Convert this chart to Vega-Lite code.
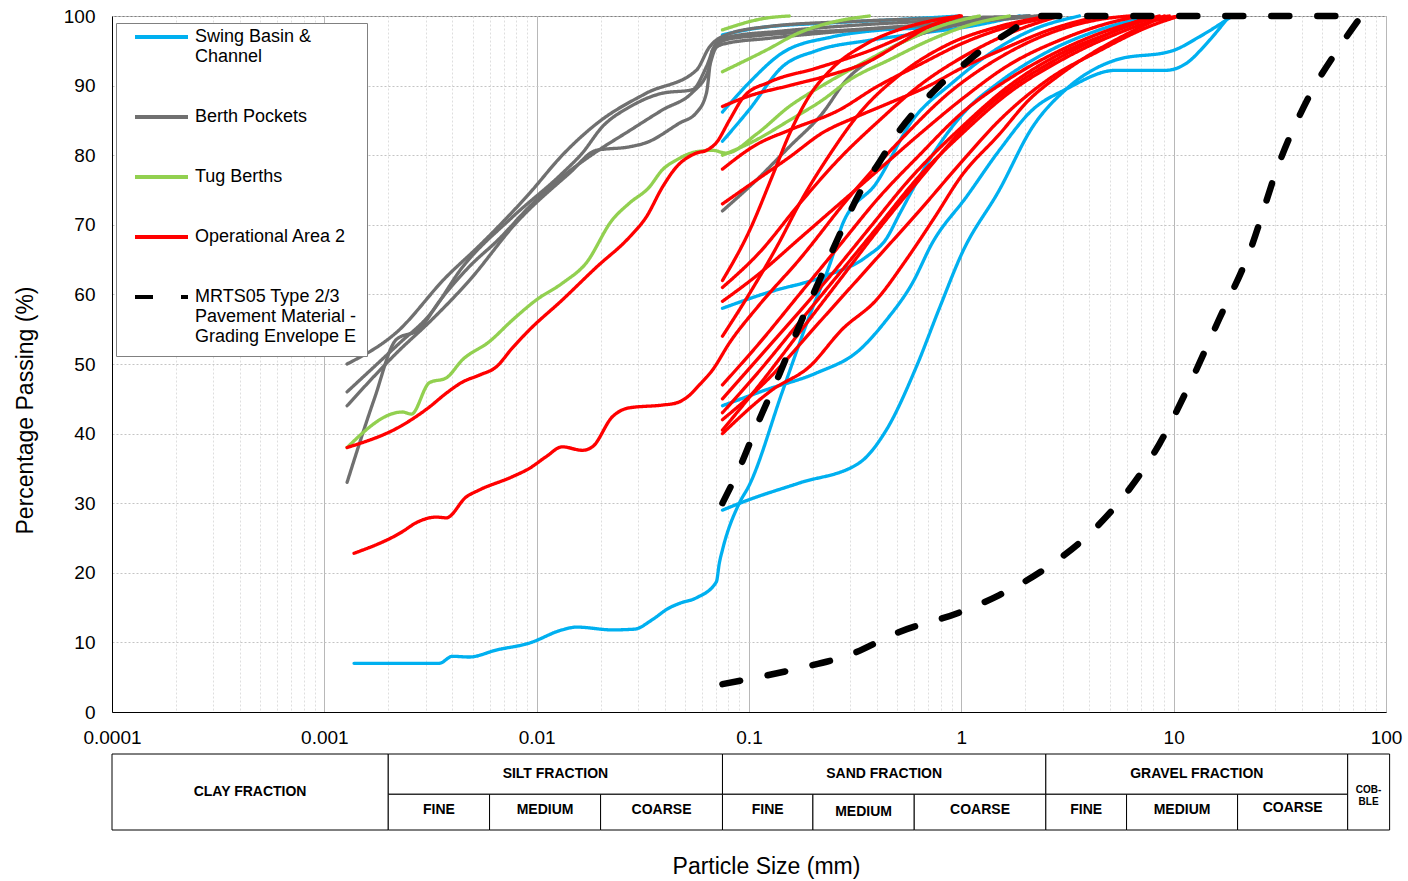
{
  "$schema": "https://vega.github.io/schema/vega-lite/v6.json",
  "background": "white",
  "padding": {"left": 13, "top": 6, "right": 5, "bottom": 5},
  "bounds": "flush",
  "spacing": 42,
  "config": {
    "font": "Liberation Sans",
    "legend": {
      "orient": "none", "legendX": 4, "legendY": 7,
      "fillColor": "white", "strokeColor": "#808080", "padding": 10,
      "symbolType": "stroke", "symbolSize": 2809, "symbolStrokeWidth": 4, "symbolOffset": 7,
      "clipHeight": 8,
      "labelFontSize": 18, "labelColor": "black", "labelLimit": 400, "labelOffset": 5,
      "rowPadding": 42
    }
  },
  "vconcat": [
    {
      "width": 1274, "height": 696,
      "view": {"stroke": "#808080"},
      "data": {"values": [
        {"g":"SB","s":"b1","x":0.00138,"y":7},{"g":"SB","s":"b1","x":0.00302,"y":7},{"g":"SB","s":"b1","x":0.00348,"y":7},{"g":"SB","s":"b1","x":0.00401,"y":8},{"g":"SB","s":"b1","x":0.00482,"y":7.9},{"g":"SB","s":"b1","x":0.00646,"y":8.9},{"g":"SB","s":"b1","x":0.00924,"y":9.9},{"g":"SB","s":"b1","x":0.0132,"y":11.8},{"g":"SB","s":"b1","x":0.0154,"y":12.2},{"g":"SB","s":"b1","x":0.0227,"y":11.8},{"g":"SB","s":"b1","x":0.0289,"y":11.9},{"g":"SB","s":"b1","x":0.0348,"y":13.2},{"g":"SB","s":"b1","x":0.0418,"y":14.9},{"g":"SB","s":"b1","x":0.047,"y":15.6},{"g":"SB","s":"b1","x":0.0565,"y":16.4},{"g":"SB","s":"b1","x":0.0702,"y":18.7},{"g":"SB","s":"b1","x":0.0725,"y":21.4},{"g":"SB","s":"b1","x":0.075,"y":23.3},{"g":"SB","s":"b1","x":0.09,"y":30},{"g":"SB","s":"b1","x":0.1,"y":32.5},{"g":"SB","s":"b1","x":0.1435,"y":46},{"g":"SB","s":"b1","x":0.192,"y":56.8},{"g":"SB","s":"b1","x":0.247,"y":65.4},{"g":"SB","s":"b1","x":0.275,"y":70},{"g":"SB","s":"b1","x":0.398,"y":76},{"g":"SB","s":"b1","x":0.588,"y":85},{"g":"SB","s":"b1","x":0.907,"y":90.4},{"g":"SB","s":"b1","x":1.51,"y":95.5},{"g":"SB","s":"b1","x":2.16,"y":98},{"g":"SB","s":"b1","x":3.6,"y":100},
        {"g":"SB","s":"b2","x":0.075,"y":29},{"g":"SB","s":"b2","x":0.1,"y":30.5},{"g":"SB","s":"b2","x":0.1726,"y":32.9},{"g":"SB","s":"b2","x":0.331,"y":35.8},{"g":"SB","s":"b2","x":0.443,"y":40.5},{"g":"SB","s":"b2","x":0.614,"y":49.6},{"g":"SB","s":"b2","x":0.788,"y":58},{"g":"SB","s":"b2","x":1.01,"y":66},{"g":"SB","s":"b2","x":1.51,"y":75},{"g":"SB","s":"b2","x":2.16,"y":84},{"g":"SB","s":"b2","x":3.12,"y":89.5},{"g":"SB","s":"b2","x":5.37,"y":93.7},{"g":"SB","s":"b2","x":9.86,"y":95},{"g":"SB","s":"b2","x":13.2,"y":97},{"g":"SB","s":"b2","x":18.9,"y":100},
        {"g":"SB","s":"b3","x":0.075,"y":44},{"g":"SB","s":"b3","x":0.1207,"y":46.3},{"g":"SB","s":"b3","x":0.2075,"y":48.7},{"g":"SB","s":"b3","x":0.3308,"y":52},{"g":"SB","s":"b3","x":0.4433,"y":56.3},{"g":"SB","s":"b3","x":0.5877,"y":61.6},{"g":"SB","s":"b3","x":0.7302,"y":67.4},{"g":"SB","s":"b3","x":1.056,"y":74},{"g":"SB","s":"b3","x":1.51,"y":80.7},{"g":"SB","s":"b3","x":2.16,"y":86.5},{"g":"SB","s":"b3","x":3.12,"y":89.5},{"g":"SB","s":"b3","x":5.37,"y":92.2},{"g":"SB","s":"b3","x":9.24,"y":92.2},{"g":"SB","s":"b3","x":11.47,"y":93.2},{"g":"SB","s":"b3","x":14.25,"y":96},{"g":"SB","s":"b3","x":18.29,"y":100},
        {"g":"SB","s":"b4","x":0.075,"y":58},{"g":"SB","s":"b4","x":0.1207,"y":60.2},{"g":"SB","s":"b4","x":0.2215,"y":62.5},{"g":"SB","s":"b4","x":0.3569,"y":65.4},{"g":"SB","s":"b4","x":0.4433,"y":68},{"g":"SB","s":"b4","x":0.5105,"y":71.5},{"g":"SB","s":"b4","x":0.7302,"y":80},{"g":"SB","s":"b4","x":1.056,"y":86.5},{"g":"SB","s":"b4","x":1.51,"y":90.5},{"g":"SB","s":"b4","x":2.6,"y":95},{"g":"SB","s":"b4","x":4.47,"y":98},{"g":"SB","s":"b4","x":7.68,"y":100},
        {"g":"SB","s":"b5","x":0.075,"y":86.2},{"g":"SB","s":"b5","x":0.1,"y":90.4},{"g":"SB","s":"b5","x":0.1435,"y":94.7},{"g":"SB","s":"b5","x":0.2468,"y":97},{"g":"SB","s":"b5","x":0.4245,"y":98},{"g":"SB","s":"b5","x":0.7302,"y":98.4},{"g":"SB","s":"b5","x":1.216,"y":99.5},{"g":"SB","s":"b5","x":2.09,"y":100},
        {"g":"SB","s":"b6","x":0.075,"y":82},{"g":"SB","s":"b6","x":0.1,"y":86.5},{"g":"SB","s":"b6","x":0.1435,"y":92.7},{"g":"SB","s":"b6","x":0.2075,"y":95},{"g":"SB","s":"b6","x":0.3686,"y":96.5},{"g":"SB","s":"b6","x":0.6341,"y":97.5},{"g":"SB","s":"b6","x":1.091,"y":98.5},{"g":"SB","s":"b6","x":1.876,"y":100},
        {"g":"SB","s":"b7","x":0.075,"y":97.3},{"g":"SB","s":"b7","x":0.1119,"y":98.3},{"g":"SB","s":"b7","x":0.2389,"y":99},{"g":"SB","s":"b7","x":0.5105,"y":99.5},{"g":"SB","s":"b7","x":0.9786,"y":100},

        {"g":"BP","s":"p1","x":0.00128,"y":50},{"g":"BP","s":"p1","x":0.00218,"y":54.5},{"g":"BP","s":"p1","x":0.00375,"y":62.5},{"g":"BP","s":"p1","x":0.00537,"y":67},{"g":"BP","s":"p1","x":0.00924,"y":74.5},{"g":"BP","s":"p1","x":0.0132,"y":80},{"g":"BP","s":"p1","x":0.0191,"y":84.5},{"g":"BP","s":"p1","x":0.0328,"y":88.9},{"g":"BP","s":"p1","x":0.0565,"y":92.2},{"g":"BP","s":"p1","x":0.065,"y":95.5},{"g":"BP","s":"p1","x":0.0782,"y":97.3},{"g":"BP","s":"p1","x":0.1247,"y":98.5},{"g":"BP","s":"p1","x":0.2969,"y":99.2},{"g":"BP","s":"p1","x":0.878,"y":99.7},{"g":"BP","s":"p1","x":2.6,"y":100},
        {"g":"BP","s":"p2","x":0.00128,"y":46},{"g":"BP","s":"p2","x":0.00226,"y":53},{"g":"BP","s":"p2","x":0.00312,"y":57},{"g":"BP","s":"p2","x":0.00447,"y":63.9},{"g":"BP","s":"p2","x":0.00768,"y":71.1},{"g":"BP","s":"p2","x":0.0132,"y":77.4},{"g":"BP","s":"p2","x":0.0164,"y":80.3},{"g":"BP","s":"p2","x":0.0204,"y":84.1},{"g":"BP","s":"p2","x":0.0273,"y":86.9},{"g":"BP","s":"p2","x":0.0391,"y":88.9},{"g":"BP","s":"p2","x":0.0541,"y":89.4},{"g":"BP","s":"p2","x":0.063,"y":92.7},{"g":"BP","s":"p2","x":0.0702,"y":96.1},{"g":"BP","s":"p2","x":0.0808,"y":97},{"g":"BP","s":"p2","x":0.1389,"y":97.8},{"g":"BP","s":"p2","x":0.3686,"y":98.8},{"g":"BP","s":"p2","x":1.091,"y":99.5},{"g":"BP","s":"p2","x":2.6,"y":100},
        {"g":"BP","s":"p3","x":0.00128,"y":44},{"g":"BP","s":"p3","x":0.00226,"y":52},{"g":"BP","s":"p3","x":0.00312,"y":56},{"g":"BP","s":"p3","x":0.00482,"y":62},{"g":"BP","s":"p3","x":0.00802,"y":70.3},{"g":"BP","s":"p3","x":0.01425,"y":77.4},{"g":"BP","s":"p3","x":0.0191,"y":80.7},{"g":"BP","s":"p3","x":0.0273,"y":81.2},{"g":"BP","s":"p3","x":0.0328,"y":81.8},{"g":"BP","s":"p3","x":0.047,"y":84.6},{"g":"BP","s":"p3","x":0.0565,"y":86.1},{"g":"BP","s":"p3","x":0.063,"y":88.9},{"g":"BP","s":"p3","x":0.0672,"y":95.1},{"g":"BP","s":"p3","x":0.0782,"y":96.6},{"g":"BP","s":"p3","x":0.1119,"y":97.2},{"g":"BP","s":"p3","x":0.2969,"y":98},{"g":"BP","s":"p3","x":0.878,"y":99},{"g":"BP","s":"p3","x":2.09,"y":100},
        {"g":"BP","s":"p4","x":0.00128,"y":33},{"g":"BP","s":"p4","x":0.00172,"y":45},{"g":"BP","s":"p4","x":0.00218,"y":53.5},{"g":"BP","s":"p4","x":0.0028,"y":55},{"g":"BP","s":"p4","x":0.00348,"y":59},{"g":"BP","s":"p4","x":0.00482,"y":64},{"g":"BP","s":"p4","x":0.00667,"y":68},{"g":"BP","s":"p4","x":0.00924,"y":72.6},{"g":"BP","s":"p4","x":0.0132,"y":76.9},{"g":"BP","s":"p4","x":0.0191,"y":80.5},{"g":"BP","s":"p4","x":0.0273,"y":83.5},{"g":"BP","s":"p4","x":0.0391,"y":86.5},{"g":"BP","s":"p4","x":0.0541,"y":89},{"g":"BP","s":"p4","x":0.063,"y":91.5},{"g":"BP","s":"p4","x":0.0702,"y":95.5},{"g":"BP","s":"p4","x":0.0765,"y":96},{"g":"BP","s":"p4","x":0.1247,"y":96.8},{"g":"BP","s":"p4","x":0.3308,"y":98},{"g":"BP","s":"p4","x":0.9786,"y":99},{"g":"BP","s":"p4","x":2.33,"y":100},
        {"g":"BP","s":"p5","x":0.075,"y":72},{"g":"BP","s":"p5","x":0.1082,"y":76.4},{"g":"BP","s":"p5","x":0.1548,"y":81.2},{"g":"BP","s":"p5","x":0.2215,"y":86},{"g":"BP","s":"p5","x":0.2873,"y":90.8},{"g":"BP","s":"p5","x":0.411,"y":94.4},{"g":"BP","s":"p5","x":0.6341,"y":97.3},{"g":"BP","s":"p5","x":1.091,"y":99},{"g":"BP","s":"p5","x":2.09,"y":100},

        {"g":"TB","s":"t1","x":0.00128,"y":38},{"g":"TB","s":"t1","x":0.00233,"y":43.1},{"g":"TB","s":"t1","x":0.00257,"y":42.8},{"g":"TB","s":"t1","x":0.00312,"y":47.3},{"g":"TB","s":"t1","x":0.00375,"y":48},{"g":"TB","s":"t1","x":0.00447,"y":50.6},{"g":"TB","s":"t1","x":0.00598,"y":53.2},{"g":"TB","s":"t1","x":0.00768,"y":56.3},{"g":"TB","s":"t1","x":0.00996,"y":59.2},{"g":"TB","s":"t1","x":0.0132,"y":61.6},{"g":"TB","s":"t1","x":0.0171,"y":64.5},{"g":"TB","s":"t1","x":0.0227,"y":70.7},{"g":"TB","s":"t1","x":0.0273,"y":73.1},{"g":"TB","s":"t1","x":0.0339,"y":75.4},{"g":"TB","s":"t1","x":0.0391,"y":77.9},{"g":"TB","s":"t1","x":0.0455,"y":79.3},{"g":"TB","s":"t1","x":0.0565,"y":80.5},{"g":"TB","s":"t1","x":0.0672,"y":80.7},{"g":"TB","s":"t1","x":0.0782,"y":80.3},{"g":"TB","s":"t1","x":0.1082,"y":83},{"g":"TB","s":"t1","x":0.1548,"y":87},{"g":"TB","s":"t1","x":0.2215,"y":90},{"g":"TB","s":"t1","x":0.3308,"y":93},{"g":"TB","s":"t1","x":0.5105,"y":96},{"g":"TB","s":"t1","x":0.7878,"y":98.5},{"g":"TB","s":"t1","x":1.216,"y":100},
        {"g":"TB","s":"t2","x":0.075,"y":80},{"g":"TB","s":"t2","x":0.1082,"y":82.2},{"g":"TB","s":"t2","x":0.1548,"y":85},{"g":"TB","s":"t2","x":0.2215,"y":87.9},{"g":"TB","s":"t2","x":0.2969,"y":90.8},{"g":"TB","s":"t2","x":0.4579,"y":93.7},{"g":"TB","s":"t2","x":0.7068,"y":96.5},{"g":"TB","s":"t2","x":1.091,"y":98.7},{"g":"TB","s":"t2","x":1.683,"y":100},
        {"g":"TB","s":"t3","x":0.075,"y":92},{"g":"TB","s":"t3","x":0.1207,"y":95.1},{"g":"TB","s":"t3","x":0.1726,"y":97.6},{"g":"TB","s":"t3","x":0.2468,"y":99.1},{"g":"TB","s":"t3","x":0.3686,"y":100},
        {"g":"TB","s":"t4","x":0.075,"y":98},{"g":"TB","s":"t4","x":0.1207,"y":99.7},{"g":"TB","s":"t4","x":0.1548,"y":100},

        {"g":"OA","s":"r1","x":0.00128,"y":38},{"g":"OA","s":"r1","x":0.00233,"y":41.2},{"g":"OA","s":"r1","x":0.00312,"y":43.8},{"g":"OA","s":"r1","x":0.00375,"y":45.8},{"g":"OA","s":"r1","x":0.00447,"y":47.4},{"g":"OA","s":"r1","x":0.00537,"y":48.4},{"g":"OA","s":"r1","x":0.00646,"y":49.6},{"g":"OA","s":"r1","x":0.00768,"y":52.3},{"g":"OA","s":"r1","x":0.00924,"y":54.9},{"g":"OA","s":"r1","x":0.0132,"y":59.2},{"g":"OA","s":"r1","x":0.0191,"y":63.9},{"g":"OA","s":"r1","x":0.0273,"y":68.2},{"g":"OA","s":"r1","x":0.0328,"y":71.1},{"g":"OA","s":"r1","x":0.0391,"y":75.4},{"g":"OA","s":"r1","x":0.0455,"y":78.3},{"g":"OA","s":"r1","x":0.0565,"y":80.3},{"g":"OA","s":"r1","x":0.063,"y":80.7},{"g":"OA","s":"r1","x":0.0702,"y":81.8},{"g":"OA","s":"r1","x":0.0808,"y":85},{"g":"OA","s":"r1","x":0.0951,"y":88.5},{"g":"OA","s":"r1","x":0.1247,"y":90.5},{"g":"OA","s":"r1","x":0.2075,"y":92.5},{"g":"OA","s":"r1","x":0.3686,"y":95},{"g":"OA","s":"r1","x":0.6341,"y":98},{"g":"OA","s":"r1","x":0.9786,"y":100},
        {"g":"OA","s":"r2","x":0.00138,"y":22.8},{"g":"OA","s":"r2","x":0.00233,"y":25.9},{"g":"OA","s":"r2","x":0.00271,"y":27.2},{"g":"OA","s":"r2","x":0.00337,"y":28},{"g":"OA","s":"r2","x":0.00375,"y":27.9},{"g":"OA","s":"r2","x":0.00466,"y":30.9},{"g":"OA","s":"r2","x":0.00537,"y":31.9},{"g":"OA","s":"r2","x":0.00768,"y":33.8},{"g":"OA","s":"r2","x":0.00924,"y":35},{"g":"OA","s":"r2","x":0.0111,"y":36.7},{"g":"OA","s":"r2","x":0.0132,"y":38.1},{"g":"OA","s":"r2","x":0.0164,"y":37.6},{"g":"OA","s":"r2","x":0.0183,"y":38.1},{"g":"OA","s":"r2","x":0.0227,"y":42.4},{"g":"OA","s":"r2","x":0.0273,"y":43.7},{"g":"OA","s":"r2","x":0.0391,"y":44.1},{"g":"OA","s":"r2","x":0.0455,"y":44.4},{"g":"OA","s":"r2","x":0.0524,"y":45.5},{"g":"OA","s":"r2","x":0.0584,"y":47},{"g":"OA","s":"r2","x":0.0672,"y":49.1},{"g":"OA","s":"r2","x":0.0808,"y":53},{"g":"OA","s":"r2","x":0.1119,"y":58.5},{"g":"OA","s":"r2","x":0.1726,"y":65},{"g":"OA","s":"r2","x":0.2969,"y":74},{"g":"OA","s":"r2","x":0.5105,"y":82},{"g":"OA","s":"r2","x":0.878,"y":89},{"g":"OA","s":"r2","x":1.51,"y":94},{"g":"OA","s":"r2","x":2.6,"y":97.5},{"g":"OA","s":"r2","x":4.47,"y":99.5},{"g":"OA","s":"r2","x":6.18,"y":100},
        {"g":"OA","s":"r3","x":0.075,"y":87},{"g":"OA","s":"r3","x":0.1,"y":88.5},{"g":"OA","s":"r3","x":0.1548,"y":90},{"g":"OA","s":"r3","x":0.2389,"y":91.5},{"g":"OA","s":"r3","x":0.3686,"y":93.5},{"g":"OA","s":"r3","x":0.5105,"y":96},{"g":"OA","s":"r3","x":0.7068,"y":98.5},{"g":"OA","s":"r3","x":1,"y":100},
        {"g":"OA","s":"r4","x":0.075,"y":78},{"g":"OA","s":"r4","x":0.1082,"y":81.5},{"g":"OA","s":"r4","x":0.1548,"y":83.6},{"g":"OA","s":"r4","x":0.2663,"y":86.5},{"g":"OA","s":"r4","x":0.3978,"y":89.8},{"g":"OA","s":"r4","x":0.6341,"y":93},{"g":"OA","s":"r4","x":1,"y":96},{"g":"OA","s":"r4","x":1.683,"y":98.5},{"g":"OA","s":"r4","x":2.894,"y":100},
        {"g":"OA","s":"r5","x":0.075,"y":73},{"g":"OA","s":"r5","x":0.1082,"y":76.4},{"g":"OA","s":"r5","x":0.1548,"y":79.7},{"g":"OA","s":"r5","x":0.2215,"y":83.2},{"g":"OA","s":"r5","x":0.3202,"y":85.5},{"g":"OA","s":"r5","x":0.4579,"y":87.5},{"g":"OA","s":"r5","x":0.7068,"y":90},{"g":"OA","s":"r5","x":1,"y":92.5},{"g":"OA","s":"r5","x":1.51,"y":95},{"g":"OA","s":"r5","x":2.6,"y":98},{"g":"OA","s":"r5","x":4.47,"y":100},
        {"g":"OA","s":"r6","x":0.075,"y":62},{"g":"OA","s":"r6","x":0.1,"y":69},{"g":"OA","s":"r6","x":0.1288,"y":77},{"g":"OA","s":"r6","x":0.1548,"y":83},{"g":"OA","s":"r6","x":0.1923,"y":88.5},{"g":"OA","s":"r6","x":0.2468,"y":92.5},{"g":"OA","s":"r6","x":0.3569,"y":96},{"g":"OA","s":"r6","x":0.569,"y":98.5},{"g":"OA","s":"r6","x":0.9786,"y":100},
        {"g":"OA","s":"r7","x":0.075,"y":61},{"g":"OA","s":"r7","x":0.1119,"y":66},{"g":"OA","s":"r7","x":0.1726,"y":73},{"g":"OA","s":"r7","x":0.2663,"y":79.5},{"g":"OA","s":"r7","x":0.411,"y":85},{"g":"OA","s":"r7","x":0.6341,"y":90},{"g":"OA","s":"r7","x":1,"y":94},{"g":"OA","s":"r7","x":1.683,"y":97.5},{"g":"OA","s":"r7","x":2.894,"y":100},
        {"g":"OA","s":"r8","x":0.075,"y":59},{"g":"OA","s":"r8","x":0.1119,"y":63},{"g":"OA","s":"r8","x":0.1726,"y":68},{"g":"OA","s":"r8","x":0.2663,"y":73},{"g":"OA","s":"r8","x":0.411,"y":78},{"g":"OA","s":"r8","x":0.6341,"y":83},{"g":"OA","s":"r8","x":1,"y":88},{"g":"OA","s":"r8","x":1.683,"y":93},{"g":"OA","s":"r8","x":2.894,"y":96.5},{"g":"OA","s":"r8","x":4.978,"y":99},{"g":"OA","s":"r8","x":6.89,"y":100},
        {"g":"OA","s":"r9","x":0.075,"y":54},{"g":"OA","s":"r9","x":0.1,"y":60},{"g":"OA","s":"r9","x":0.1389,"y":67.5},{"g":"OA","s":"r9","x":0.1726,"y":73},{"g":"OA","s":"r9","x":0.2389,"y":80},{"g":"OA","s":"r9","x":0.3308,"y":86},{"g":"OA","s":"r9","x":0.5105,"y":91.5},{"g":"OA","s":"r9","x":0.878,"y":96},{"g":"OA","s":"r9","x":1.51,"y":98.5},{"g":"OA","s":"r9","x":2.6,"y":100},
        {"g":"OA","s":"r10","x":0.075,"y":47},{"g":"OA","s":"r10","x":0.1119,"y":53},{"g":"OA","s":"r10","x":0.1726,"y":60},{"g":"OA","s":"r10","x":0.2663,"y":67},{"g":"OA","s":"r10","x":0.411,"y":74},{"g":"OA","s":"r10","x":0.6341,"y":80},{"g":"OA","s":"r10","x":1,"y":86},{"g":"OA","s":"r10","x":1.683,"y":91},{"g":"OA","s":"r10","x":2.894,"y":95},{"g":"OA","s":"r10","x":4.978,"y":98},{"g":"OA","s":"r10","x":8.561,"y":100},
        {"g":"OA","s":"r11","x":0.075,"y":45},{"g":"OA","s":"r11","x":0.1119,"y":51},{"g":"OA","s":"r11","x":0.1726,"y":57.5},{"g":"OA","s":"r11","x":0.2468,"y":63},{"g":"OA","s":"r11","x":0.3686,"y":69.5},{"g":"OA","s":"r11","x":0.569,"y":76.5},{"g":"OA","s":"r11","x":1,"y":84},{"g":"OA","s":"r11","x":1.683,"y":90},{"g":"OA","s":"r11","x":2.894,"y":94.5},{"g":"OA","s":"r11","x":4.978,"y":97.5},{"g":"OA","s":"r11","x":7.683,"y":99.5},{"g":"OA","s":"r11","x":9.541,"y":100},
        {"g":"OA","s":"r12","x":0.075,"y":43},{"g":"OA","s":"r12","x":0.1119,"y":49},{"g":"OA","s":"r12","x":0.1726,"y":56},{"g":"OA","s":"r12","x":0.2663,"y":63},{"g":"OA","s":"r12","x":0.411,"y":70},{"g":"OA","s":"r12","x":0.6341,"y":77},{"g":"OA","s":"r12","x":1,"y":83},{"g":"OA","s":"r12","x":1.683,"y":89},{"g":"OA","s":"r12","x":2.894,"y":93.5},{"g":"OA","s":"r12","x":4.978,"y":97},{"g":"OA","s":"r12","x":8.561,"y":99.5},{"g":"OA","s":"r12","x":10.63,"y":100},
        {"g":"OA","s":"r13","x":0.075,"y":42},{"g":"OA","s":"r13","x":0.1247,"y":48},{"g":"OA","s":"r13","x":0.2144,"y":56},{"g":"OA","s":"r13","x":0.3686,"y":64},{"g":"OA","s":"r13","x":0.6341,"y":72},{"g":"OA","s":"r13","x":1,"y":79},{"g":"OA","s":"r13","x":1.51,"y":85},{"g":"OA","s":"r13","x":2.6,"y":91},{"g":"OA","s":"r13","x":4.466,"y":95},{"g":"OA","s":"r13","x":7.683,"y":98.5},{"g":"OA","s":"r13","x":10.63,"y":100},
        {"g":"OA","s":"r14","x":0.075,"y":40},{"g":"OA","s":"r14","x":0.1288,"y":46.3},{"g":"OA","s":"r14","x":0.1923,"y":49.6},{"g":"OA","s":"r14","x":0.2751,"y":55},{"g":"OA","s":"r14","x":0.3978,"y":59.2},{"g":"OA","s":"r14","x":0.5508,"y":65},{"g":"OA","s":"r14","x":0.7462,"y":71},{"g":"OA","s":"r14","x":1,"y":77},{"g":"OA","s":"r14","x":1.51,"y":83},{"g":"OA","s":"r14","x":2.091,"y":88},{"g":"OA","s":"r14","x":2.894,"y":91.5},{"g":"OA","s":"r14","x":3.595,"y":93.5},{"g":"OA","s":"r14","x":6.183,"y":97.6},{"g":"OA","s":"r14","x":9.039,"y":100},
        {"g":"OA","s":"r15","x":0.075,"y":40.5},{"g":"OA","s":"r15","x":0.1119,"y":47},{"g":"OA","s":"r15","x":0.1726,"y":54.5},{"g":"OA","s":"r15","x":0.2663,"y":62},{"g":"OA","s":"r15","x":0.411,"y":69.5},{"g":"OA","s":"r15","x":0.6341,"y":76.5},{"g":"OA","s":"r15","x":1,"y":83.5},{"g":"OA","s":"r15","x":1.683,"y":89.5},{"g":"OA","s":"r15","x":2.894,"y":94},{"g":"OA","s":"r15","x":4.978,"y":97.5},{"g":"OA","s":"r15","x":7.683,"y":100},

        {"g":"MR","s":"m1","x":0.075,"y":30},{"g":"MR","s":"m1","x":0.09,"y":35},{"g":"MR","s":"m1","x":0.1119,"y":42},{"g":"MR","s":"m1","x":0.1389,"y":48.5},{"g":"MR","s":"m1","x":0.1726,"y":55.5},{"g":"MR","s":"m1","x":0.2144,"y":62},{"g":"MR","s":"m1","x":0.2663,"y":68.5},{"g":"MR","s":"m1","x":0.3308,"y":74.5},{"g":"MR","s":"m1","x":0.411,"y":79},{"g":"MR","s":"m1","x":0.5105,"y":83.5},{"g":"MR","s":"m1","x":0.6341,"y":87},{"g":"MR","s":"m1","x":0.7878,"y":90},{"g":"MR","s":"m1","x":0.9786,"y":92.5},{"g":"MR","s":"m1","x":1.283,"y":95.4},{"g":"MR","s":"m1","x":1.683,"y":97.7},{"g":"MR","s":"m1","x":2.091,"y":99.5},{"g":"MR","s":"m1","x":2.36,"y":100},{"g":"MR","s":"m1","x":76.5,"y":100},
        {"g":"MR","s":"m2","x":0.075,"y":4},{"g":"MR","s":"m2","x":0.1726,"y":6.3},{"g":"MR","s":"m2","x":0.2969,"y":8.2},{"g":"MR","s":"m2","x":0.5105,"y":11.5},{"g":"MR","s":"m2","x":1,"y":14.4},{"g":"MR","s":"m2","x":1.51,"y":16.8},{"g":"MR","s":"m2","x":2.6,"y":21},{"g":"MR","s":"m2","x":4.47,"y":27},{"g":"MR","s":"m2","x":6.18,"y":32},{"g":"MR","s":"m2","x":8.56,"y":38.5},{"g":"MR","s":"m2","x":11.85,"y":47},{"g":"MR","s":"m2","x":16.4,"y":56.5},{"g":"MR","s":"m2","x":22.7,"y":66},{"g":"MR","s":"m2","x":31.5,"y":79},{"g":"MR","s":"m2","x":43.5,"y":88.5},{"g":"MR","s":"m2","x":60.3,"y":95.5},{"g":"MR","s":"m2","x":76.5,"y":100}
      ]},
      "mark": {"type": "line", "interpolate": "monotone", "strokeCap": "round", "strokeJoin": "round"},
      "encoding": {
        "x": {
          "field": "x", "type": "quantitative",
          "scale": {"type": "log", "domain": [0.0001, 100]},
          "axis": {
            "title": null,
            "values": [0.0001,0.0002,0.0003,0.0004,0.0005,0.0006,0.0007,0.0008,0.0009,0.001,0.002,0.003,0.004,0.005,0.006,0.007,0.008,0.009,0.01,0.02,0.03,0.04,0.05,0.06,0.07,0.08,0.09,0.1,0.2,0.3,0.4,0.5,0.6,0.7,0.8,0.9,1,2,3,4,5,6,7,8,9,10,20,30,40,50,60,70,80,90,100],
            "labelExpr": "abs(log(datum.value)/LN10 - round(log(datum.value)/LN10)) < 0.000001 ? format(datum.value, '~g') : ''",
            "labelOverlap": false, "labelFlush": false,
            "labelFontSize": 19, "labelColor": "black", "labelPadding": 16,
            "ticks": false, "domainColor": "black",
            "grid": true,
            "gridColor": {"condition": {"test": "abs(log(datum.value)/LN10 - round(log(datum.value)/LN10)) < 0.000001", "value": "#b8b8b8"}, "value": "#dedede"},
            "gridDash": {"condition": {"test": "abs(log(datum.value)/LN10 - round(log(datum.value)/LN10)) < 0.000001", "value": []}, "value": [2, 2]}
          }
        },
        "y": {
          "field": "y", "type": "quantitative",
          "scale": {"domain": [0, 100]},
          "axis": {
            "title": "Percentage Passing (%)",
            "values": [0,10,20,30,40,50,60,70,80,90,100],
            "labelFontSize": 19, "labelColor": "black", "labelPadding": 17, "labelFlush": false,
            "ticks": false, "domainColor": "black",
            "grid": true, "gridColor": "#c4c4c4", "gridDash": [2, 2],
            "titleFontSize": 23, "titleFontWeight": "normal", "titleColor": "black",
            "titleAngle": 270, "titleX": -87, "titleY": 394, "titleAlign": "center", "titleBaseline": "middle"
          }
        },
        "color": {
          "field": "g", "type": "nominal",
          "scale": {"domain": ["SB","BP","TB","OA","MR"], "range": ["#00B0F0","#707070","#92D050","#FF0000","#000000"]},
          "legend": {"title": null, "labelExpr": "datum.label == 'SB' ? ['Swing Basin &', 'Channel'] : datum.label == 'BP' ? 'Berth Pockets' : datum.label == 'TB' ? 'Tug Berths' : datum.label == 'OA' ? 'Operational Area 2' : ['MRTS05 Type 2/3', 'Pavement Material -', 'Grading Envelope E']"}
        },
        "strokeDash": {
          "field": "g", "type": "nominal",
          "scale": {"domain": ["SB","BP","TB","OA","MR"], "range": [[1,0],[1,0],[1,0],[1,0],[18,28]]},
          "legend": {"title": null, "labelExpr": "datum.label == 'SB' ? ['Swing Basin &', 'Channel'] : datum.label == 'BP' ? 'Berth Pockets' : datum.label == 'TB' ? 'Tug Berths' : datum.label == 'OA' ? 'Operational Area 2' : ['MRTS05 Type 2/3', 'Pavement Material -', 'Grading Envelope E']"}
        },
        "detail": {"field": "s", "type": "nominal"},
        "strokeWidth": {"condition": {"test": "datum.g === 'MR'", "value": 6.5}, "value": 3.3}
      }
    },
    {
      "width": 1274, "height": 76,
      "view": {"stroke": null},
      "layer": [
        {
          "data": {"values": [
            {"x":0.0001,"x2":0.002,"y":0,"y2":1},
            {"x":0.002,"x2":0.075,"y":0.47,"y2":1},
            {"x":0.002,"x2":0.006,"y":0,"y2":0.47},
            {"x":0.006,"x2":0.02,"y":0,"y2":0.47},
            {"x":0.02,"x2":0.075,"y":0,"y2":0.47},
            {"x":0.075,"x2":2.5,"y":0.47,"y2":1},
            {"x":0.075,"x2":0.2,"y":0,"y2":0.47},
            {"x":0.2,"x2":0.6,"y":0,"y2":0.47},
            {"x":0.6,"x2":2.5,"y":0,"y2":0.47},
            {"x":2.5,"x2":66,"y":0.47,"y2":1},
            {"x":2.5,"x2":6,"y":0,"y2":0.47},
            {"x":6,"x2":20,"y":0,"y2":0.47},
            {"x":20,"x2":66,"y":0,"y2":0.47},
            {"x":66,"x2":104,"y":0,"y2":1}
          ]},
          "mark": {"type": "rect", "fill": "white", "stroke": "black", "strokeWidth": 1},
          "encoding": {
            "x": {"field": "x", "type": "quantitative", "scale": {"type": "log", "domain": [0.0001, 100]},
              "axis": {"title": "Particle Size (mm)", "labels": false, "ticks": false, "domain": false, "grid": false,
                "titleFontSize": 23, "titleFontWeight": "normal", "titleColor": "black",
                "titleX": 654, "titleY": 36, "titleAlign": "center", "titleBaseline": "middle"}},
            "x2": {"field": "x2"},
            "y": {"field": "y", "type": "quantitative", "scale": {"domain": [0, 1], "nice": false}, "axis": null},
            "y2": {"field": "y2"}
          }
        },
        {
          "data": {"values": [
            {"c":"CLAY FRACTION","x":0.000447,"y":0.5},
            {"c":"SILT FRACTION","x":0.01225,"y":0.74},
            {"c":"FINE","x":0.003464,"y":0.26},
            {"c":"MEDIUM","x":0.01095,"y":0.26},
            {"c":"COARSE","x":0.03873,"y":0.26},
            {"c":"SAND FRACTION","x":0.433,"y":0.74},
            {"c":"FINE","x":0.1225,"y":0.26},
            {"c":"MEDIUM","x":0.3464,"y":0.24},
            {"c":"COARSE","x":1.225,"y":0.26},
            {"c":"GRAVEL FRACTION","x":12.85,"y":0.74},
            {"c":"FINE","x":3.873,"y":0.26},
            {"c":"MEDIUM","x":10.95,"y":0.26},
            {"c":"COARSE","x":36.33,"y":0.29},
            {"c":"COB-|BLE","x":82.8,"y":0.53}
          ]},
          "mark": {"type": "text", "fontWeight": "bold", "lineBreak": "|", "color": "black", "align": "center", "baseline": "middle"},
          "encoding": {
            "x": {"field": "x", "type": "quantitative"},
            "y": {"field": "y", "type": "quantitative"},
            "text": {"field": "c"},
            "size": {"condition": {"test": "datum.c === 'COB-|BLE'", "value": 10}, "value": 14}
          }
        }
      ]
    }
  ]
}
